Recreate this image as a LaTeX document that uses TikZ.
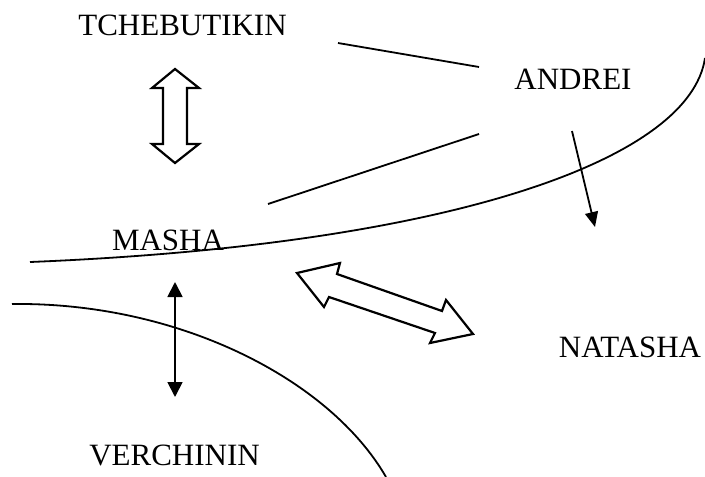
\documentclass[tikz,border=0pt]{standalone}
\usepackage{fontspec}
\setmainfont{Liberation Serif}
\usetikzlibrary{arrows.meta}
\begin{document}
\begin{tikzpicture}[x=1pt,y=-1pt,
  lbl/.style={anchor=base,inner sep=0pt,font=\fontsize{31}{31}\selectfont},
  curveline/.style={line width=1.8pt},
  thinline/.style={line width=1.8pt},
  blockarrow/.style={line width=2.2pt,fill=white,line join=miter},
  tri/.style={-{Triangle[length=15pt,width=13pt]}},
  tritwo/.style={{Triangle[length=15pt,width=15pt]}-{Triangle[length=15pt,width=15pt]}}]
\useasboundingbox (0,0) rectangle (705,477);
\fill[white] (0,0) rectangle (705,477);
% labels
\node[lbl] (tch) at (182.5,35) {TCHEBUTIKIN};
\node[lbl] (andrei) at (573,89) {ANDREI};
\node[lbl] (masha) at (168,250) {MASHA};
\node[lbl] (natasha) at (630,357) {NATASHA};
\node[lbl] (verch) at (174.5,465) {VERCHININ};
% coordinates
\coordinate (l1a) at (338,43);
\coordinate (l1b) at (479,67);
\coordinate (l2a) at (479,134);
\coordinate (l2b) at (268,204);
\coordinate (c1s) at (30,262);
\coordinate (c1e) at (705,58);
\coordinate (c2s) at (12,304);
\coordinate (c2e) at (386,477);
\coordinate (aa) at (572,131);
\coordinate (ab) at (595,227);
\coordinate (va) at (175,282);
\coordinate (vb) at (175,397);
% lines
\draw[thinline] (l1a) -- (l1b);
\draw[thinline] (l2a) -- (l2b);
\draw[curveline] (c1s) .. controls (450,245) and (690,160) .. (c1e);
\draw[curveline] (c2s) .. controls (180,302) and (330,380) .. (c2e);
\draw[thinline,tri] (aa) -- (ab);
\draw[thinline,tritwo] (va) -- (vb);
% block arrows
\draw[blockarrow] (175,69) -- (199,88) -- (187,88) -- (187,144) -- (199,144) -- (175,163) -- (152,144) -- (163,144) -- (163,88) -- (152,88) -- cycle;
\draw[blockarrow] (297,273) -- (340,263) -- (337,274) -- (442,311) -- (446,300) -- (473,334) -- (430,343) -- (435,333) -- (329,297) -- (324,307) -- cycle;
\end{tikzpicture}
\end{document}
